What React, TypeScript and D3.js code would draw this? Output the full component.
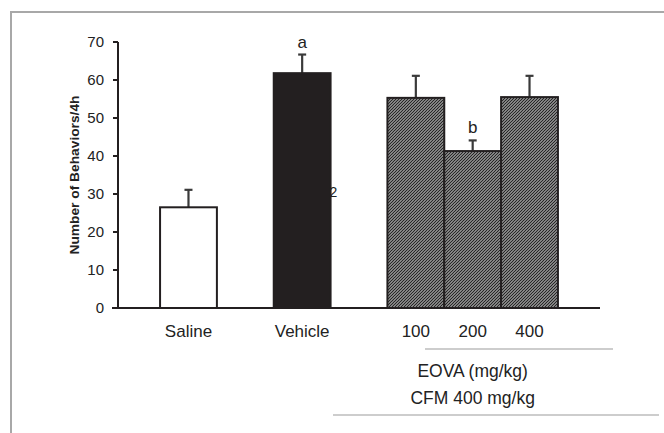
import { useEffect, useRef } from 'react';
import * as d3 from 'd3';

const groups = ['Saline', 'Vehicle', '100', '200', '400'];
const slots = [0, 2, 4, 5, 6];
const means = [26.5, 61.8, 55.3, 41.3, 55.5];
const sems = [4.6, 4.9, 5.8, 2.8, 5.6];
const fills = ['white', '#231f20', 'hatch', 'hatch', 'hatch'];
const marks = ['', 'a', '', 'b', ''];
const yTicks = [0, 10, 20, 30, 40, 50, 60, 70];

const W = 664;
const H = 433;

export default function App() {
    const svgRef = useRef<SVGSVGElement>(null);

    useEffect(() => {
        if (!svgRef.current) return;
        const svg = d3.select(svgRef.current);
        svg.selectAll('*').remove();

        const x = d3.scaleLinear().domain([-0.74, 7.74]).range([118, 600]);
        const y = d3.scaleLinear().domain([0, 70]).range([308, 42]);
        const unit = x(1) - x(0);
        const font = '"Liberation Sans", Arial, sans-serif';

        const defs = svg.append('defs');
        const pat = defs.append('pattern')
            .attr('id', 'hatch')
            .attr('patternUnits', 'userSpaceOnUse')
            .attr('width', 3)
            .attr('height', 3);
        pat.append('rect').attr('width', 3).attr('height', 3).attr('fill', '#cfcfcf');
        pat.append('path')
            .attr('d', 'M-1,1 l2,-2 M0,3 l3,-3 M2,4 l2,-2')
            .attr('stroke', '#262626')
            .attr('stroke-width', 1.3);

        // frame
        svg.append('path')
            .attr('d', `M11,433 L11,12 L${W},12`)
            .attr('fill', 'none')
            .attr('stroke', '#a8a8a8')
            .attr('stroke-width', 2);

        const data = groups.map((g, i) => ({ g, slot: slots[i], m: means[i], s: sems[i], fill: fills[i], mark: marks[i] }));

        // error bars (upper only)
        const err = svg.append('g').attr('stroke', '#3a3a3a').attr('stroke-width', 2.2);
        data.forEach(d => {
            const cx = x(d.slot + 0.5);
            err.append('line').attr('x1', cx).attr('x2', cx).attr('y1', y(d.m)).attr('y2', y(d.m + d.s));
            err.append('line').attr('x1', cx - 4).attr('x2', cx + 4).attr('y1', y(d.m + d.s)).attr('y2', y(d.m + d.s));
        });

        // stray label
        svg.append('text')
            .attr('x', x(3) - 1)
            .attr('y', 197)
            .attr('font-family', font)
            .attr('font-size', 14)
            .attr('fill', '#222')
            .text('2');

        svg.append('g')
            .selectAll('rect')
            .data(data)
            .join('rect')
            .attr('x', d => x(d.slot))
            .attr('width', unit)
            .attr('y', d => y(d.m))
            .attr('height', d => y(0) - y(d.m))
            .attr('fill', d => d.fill === 'hatch' ? 'url(#hatch)' : d.fill)
            .attr('stroke', '#231f20')
            .attr('stroke-width', 2);

        // significance letters
        svg.append('g')
            .selectAll('text')
            .data(data.filter(d => d.mark))
            .join('text')
            .attr('x', d => x(d.slot + 0.5))
            .attr('y', d => y(d.m + d.s) - 7)
            .attr('text-anchor', 'middle')
            .attr('font-family', font)
            .attr('font-size', 17)
            .attr('fill', '#222')
            .text(d => d.mark);

        // y axis
        const ya = svg.append('g').attr('stroke', '#231f20').attr('stroke-width', 2);
        ya.append('line').attr('x1', 118).attr('x2', 118).attr('y1', y(70)).attr('y2', y(0));
        ya.append('line').attr('x1', 112).attr('x2', 600).attr('y1', y(0)).attr('y2', y(0));
        ya.selectAll('line.t')
            .data(yTicks)
            .join('line')
            .attr('class', 't')
            .attr('x1', 113)
            .attr('x2', 118)
            .attr('y1', d => y(d))
            .attr('y2', d => y(d));

        svg.append('g')
            .selectAll('text')
            .data(yTicks)
            .join('text')
            .attr('x', 104)
            .attr('y', d => y(d))
            .attr('dy', '0.36em')
            .attr('text-anchor', 'end')
            .attr('font-family', font)
            .attr('font-size', 15)
            .attr('fill', '#222')
            .text(d => d);

        svg.append('text')
            .attr('transform', `translate(79,${y(35)}) rotate(-90)`)
            .attr('text-anchor', 'middle')
            .attr('font-family', font)
            .attr('font-size', 13)
            .attr('font-weight', 'bold')
            .attr('textLength', 159)
            .attr('lengthAdjust', 'spacingAndGlyphs')
            .attr('fill', '#222')
            .text('Number of Behaviors/4h');

        // category labels
        svg.append('g')
            .selectAll('text')
            .data(data)
            .join('text')
            .attr('x', d => x(d.slot + 0.5))
            .attr('y', 337)
            .attr('text-anchor', 'middle')
            .attr('font-family', font)
            .attr('font-size', 17)
            .attr('fill', '#222')
            .text(d => d.g);

        svg.append('line')
            .attr('x1', 425).attr('x2', 613).attr('y1', 349).attr('y2', 349)
            .attr('stroke', '#bdbdbd').attr('stroke-width', 1.5);
        svg.append('text')
            .attr('x', x(5.5)).attr('y', 377)
            .attr('text-anchor', 'middle')
            .attr('font-family', font).attr('font-size', 17.5).attr('fill', '#222')
            .text('EOVA (mg/kg)');
        svg.append('text')
            .attr('x', x(5.5)).attr('y', 404)
            .attr('text-anchor', 'middle')
            .attr('font-family', font).attr('font-size', 17.5).attr('fill', '#222')
            .text('CFM 400 mg/kg');
        svg.append('line')
            .attr('x1', 333).attr('x2', 659).attr('y1', 415).attr('y2', 415)
            .attr('stroke', '#bdbdbd').attr('stroke-width', 1.5);
    }, []);

    return (
        <svg ref={svgRef} width={W} height={H} style={{ position: 'absolute', left: 0, top: 0, background: 'white' }}></svg>
    );
}
